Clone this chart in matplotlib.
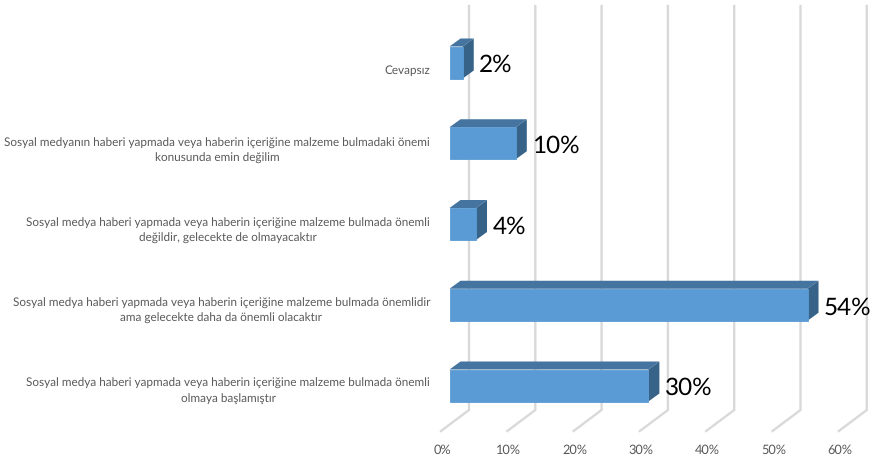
import matplotlib
matplotlib.use("Agg")
import matplotlib.pyplot as plt
from matplotlib.patches import Polygon

plt.rcParams['font.family'] = ['Lato', 'DejaVu Sans']
plt.rcParams['text.hinting'] = 'none'

# Bottom-to-top order of the survey answers
categories = [
    "Sosyal medya haberi yapmada veya haberin içeriğine malzeme bulmada önemli\nolmaya başlamıştır",
    "Sosyal medya haberi yapmada veya haberin içeriğine malzeme bulmada önemlidir\nama gelecekte daha da önemli olacaktır",
    "Sosyal medya haberi yapmada veya haberin içeriğine malzeme bulmada önemli\ndeğildir, gelecekte de olmayacaktır",
    "Sosyal medyanın haberi yapmada veya haberin içeriğine malzeme bulmadaki önemi\nkonusunda emin değilim",
    "Cevapsız",
]
values = [30, 54, 4, 10, 2]
ticks = [0, 10, 20, 30, 40, 50, 60]

W, H = 873, 456
PX_X = 6.63    # pixels per percentage point
PX_Y = 80.75   # pixels per category step
X0, Y0 = 449.5, 386.5   # pixel position of 0 % and of the first category

fig = plt.figure(figsize=(W / 100, H / 100), dpi=100)
ax = fig.add_axes([0, 0, 1, 1])
ax.set_xlim(-X0 / PX_X, (W - X0) / PX_X)
ax.set_ylim((Y0 - H) / PX_Y, Y0 / PX_Y)
ax.axis('off')

# Depth of the 3D box, expressed in data units
dx = 11 / PX_X
dy = 8 / PX_Y
half = 16 / PX_Y

# Back wall gridlines and the floor lines running towards the viewer
wall_dx = 19.5 / PX_X
wall_top = (Y0 - 7) / PX_Y
wall_bot = (Y0 - 411) / PX_Y
floor_dx = 28 / PX_X
floor_dy = 21 / PX_Y
grid = '#D9D9D9'
for t in ticks:
    xb = t + wall_dx
    ax.plot([xb, xb, xb - floor_dx], [wall_top, wall_bot, wall_bot - floor_dy],
            color=grid, lw=1.7, solid_joinstyle='miter', zorder=1)
    ax.text(t + wall_dx - 27 / PX_X, (Y0 - 450.5) / PX_Y, f"{t}%", ha='center', va='center',
            fontsize=9.2, color='#595959')

for i, (label, v) in enumerate(zip(categories, values)):
    ax.add_patch(Polygon([(0, i + half), (v, i + half), (v + dx, i + half + dy), (dx, i + half + dy)],
                         closed=True, fc='#44749F', ec='none', zorder=2))
    ax.add_patch(Polygon([(v, i - half), (v + dx, i - half + dy), (v + dx, i + half + dy), (v, i + half)],
                         closed=True, fc='#386389', ec='none', zorder=2))
    ax.add_patch(Polygon([(0, i - half), (v, i - half), (v, i + half), (0, i + half)],
                         closed=True, fc='#5B9BD5', ec='#5B9BD5', lw=0.6, zorder=3))
    ax.text(v + 16.5 / PX_X, i - 2 / PX_Y, f"{v}%", ha='left', va='center',
            fontsize=17.5, color='black', zorder=4)
    # Axis labels step slightly tighter than the bars
    label_y = (Y0 - (391 - 80 * i)) / PX_Y
    ax.text(-19.5 / PX_X, label_y, label, ha='right', va='center', ma='center',
            fontsize=8.45, color='#595959', linespacing=1.4)

fig.savefig('out.png', dpi=100)
